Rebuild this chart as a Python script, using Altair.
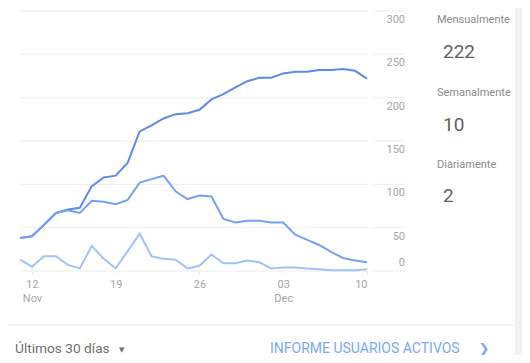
import altair as alt
import pandas as pd

# ---- data ----
days = list(range(30))  # 11 Nov .. 10 Dec
monthly = [38, 40, 53, 67, 71, 73, 98, 108, 110, 125, 161, 168, 176, 181, 182,
           186, 198, 204, 212, 219, 223, 223, 228, 230, 230, 232, 232, 233, 231, 222]
weekly = [38, 40, 53, 67, 70, 67, 81, 80, 77, 82, 102, 106, 110, 92, 83,
          87, 86, 60, 56, 58, 58, 56, 56, 42, 36, 30, 22, 15, 12, 10]
daily = [13, 5, 17, 17, 7, 3, 29, 14, 3, 23, 43, 17, 14, 13, 3,
         6, 19, 9, 9, 12, 10, 3, 4, 4, 3, 2, 1, 1, 1, 2]
series_names = ["Mensualmente", "Semanalmente", "Diariamente"]
series_colors = ["#5c8be8", "#74a2f2", "#a3c2f9"]
latest = ["222", "10", "2"]
x_tick_days = [1, 8, 15, 22, 29]
x_tick_labels = [["12", "Nov"], ["19"], ["26"], ["03", "Dec"], ["10"]]
y_ticks = [0, 50, 100, 150, 200, 250, 300]
footer_left = "Últimos 30 días"
footer_right = "INFORME USUARIOS ACTIVOS"

W, H = 347, 260

rows = []
for name, vals in zip(series_names, [monthly, weekly, daily]):
    for d, v in zip(days, vals):
        rows.append({"day": d, "value": v, "series": name})
df = pd.DataFrame(rows)

label_expr = ""
for d, lab in zip(x_tick_days, x_tick_labels):
    label_expr += f"datum.value == {d} ? {lab!r} : "
label_expr += "''"

xs = alt.Scale(domain=[0, 29], nice=False, zero=False)
ys = alt.Scale(domain=[0, 300], nice=False)

ydf = pd.DataFrame({"v": y_ticks})
ygrid = alt.Chart(ydf).mark_rule(color="#ececec", strokeWidth=1).encode(
    x=alt.value(0), x2=alt.value(348), y=alt.Y("v:Q", scale=ys, axis=None))
ygrid_ext = alt.Chart(ydf).mark_rule(color="#ececec", strokeWidth=1).encode(
    x=alt.value(353), x2=alt.value(385), y=alt.Y("v:Q", scale=ys, axis=None))
ylabels = alt.Chart(ydf).transform_filter("datum.v > 0").mark_text(
    align="right", baseline="middle", fontSize=11, font="Roboto", color="#a6a6a6", dy=9).encode(
    x=alt.value(385), y=alt.Y("v:Q", scale=ys, axis=None), text="v:Q")
ylabel0 = alt.Chart(ydf).transform_filter("datum.v == 0").mark_text(
    align="right", baseline="middle", fontSize=11, font="Roboto", color="#a6a6a6", dy=-8).encode(
    x=alt.value(385), y=alt.Y("v:Q", scale=ys, axis=None), text="v:Q")

lines = alt.Chart(df).mark_line(strokeWidth=2, interpolate="linear").encode(
    x=alt.X("day:Q", scale=xs, axis=alt.Axis(
        values=x_tick_days, labelExpr=label_expr, grid=False, domain=False,
        tickSize=3, tickColor="#e6e6e6", labelColor="#a6a6a6", labelFontSize=11,
        labelFont="Roboto", labelPadding=4, labelLineHeight=14, title=None)),
    y=alt.Y("value:Q", scale=ys, axis=None),
    color=alt.Color("series:N", scale=alt.Scale(domain=series_names, range=series_colors), legend=None),
    order=alt.Order("series:N"),
)

# right panel
pdf = pd.DataFrame({"name": series_names, "val": latest,
                    "ny": [9, 82, 154], "vy": [41, 114, 185]})
pnames = alt.Chart(pdf).mark_text(align="left", baseline="middle", fontSize=11,
                                  font="Roboto", color="#8a8a8a").encode(
    x=alt.value(417), y=alt.Y("ny:Q", scale=None, axis=None), text="name:N")
pvals = alt.Chart(pdf).mark_text(align="left", baseline="middle", fontSize=19,
                                 font="Roboto", color="#5f5f5f").encode(
    x=alt.value(423), y=alt.Y("vy:Q", scale=None, axis=None), text="val:N")

# footer
sep = alt.Chart(pd.DataFrame({"a": [0]})).mark_rule(color="#eeeeee").encode(
    x=alt.value(-12), x2=alt.value(495), y=alt.value(314))
fl = alt.Chart(pd.DataFrame({"t": [footer_left]})).mark_text(
    align="left", baseline="middle", fontSize=13.7, font="Roboto", color="#6f6f6f").encode(
    x=alt.value(-5), y=alt.value(338), text="t:N")
arrow = alt.Chart(pd.DataFrame({"t": ["▼"]})).mark_text(
    align="left", baseline="middle", fontSize=7, font="DejaVu Sans", color="#6f6f6f").encode(
    x=alt.value(99), y=alt.value(339), text="t:N")
fr = alt.Chart(pd.DataFrame({"t": [footer_right]})).mark_text(
    align="left", baseline="middle", fontSize=14, font="Roboto", color="#7aa9f4").encode(
    x=alt.value(250), y=alt.value(338), text="t:N")
chev = alt.Chart(pd.DataFrame({"t": ["❯"]})).mark_text(
    align="center", baseline="middle", fontSize=13, font="DejaVu Sans",
    color="#7aa9f4").encode(x=alt.value(464), y=alt.value(338), text="t:N")
strip = alt.Chart(pd.DataFrame({"a": [0]})).mark_rect(color="#f1f1f1").encode(
    x=alt.value(495), x2=alt.value(502), y=alt.value(-3), y2=alt.value(344))

chart = alt.layer(ygrid, ygrid_ext, ylabels, ylabel0, lines, pnames, pvals, sep, fl, arrow, fr, chev, strip).properties(
    width=W, height=H, autosize="none",
    padding={"left": 12, "top": 3, "right": 155, "bottom": 84},
).configure(background="white").configure_view(strokeWidth=0, stroke=None).configure_axis(domain=False)

chart.save("out.html", embed_options={"renderer": "svg", "actions": False})
